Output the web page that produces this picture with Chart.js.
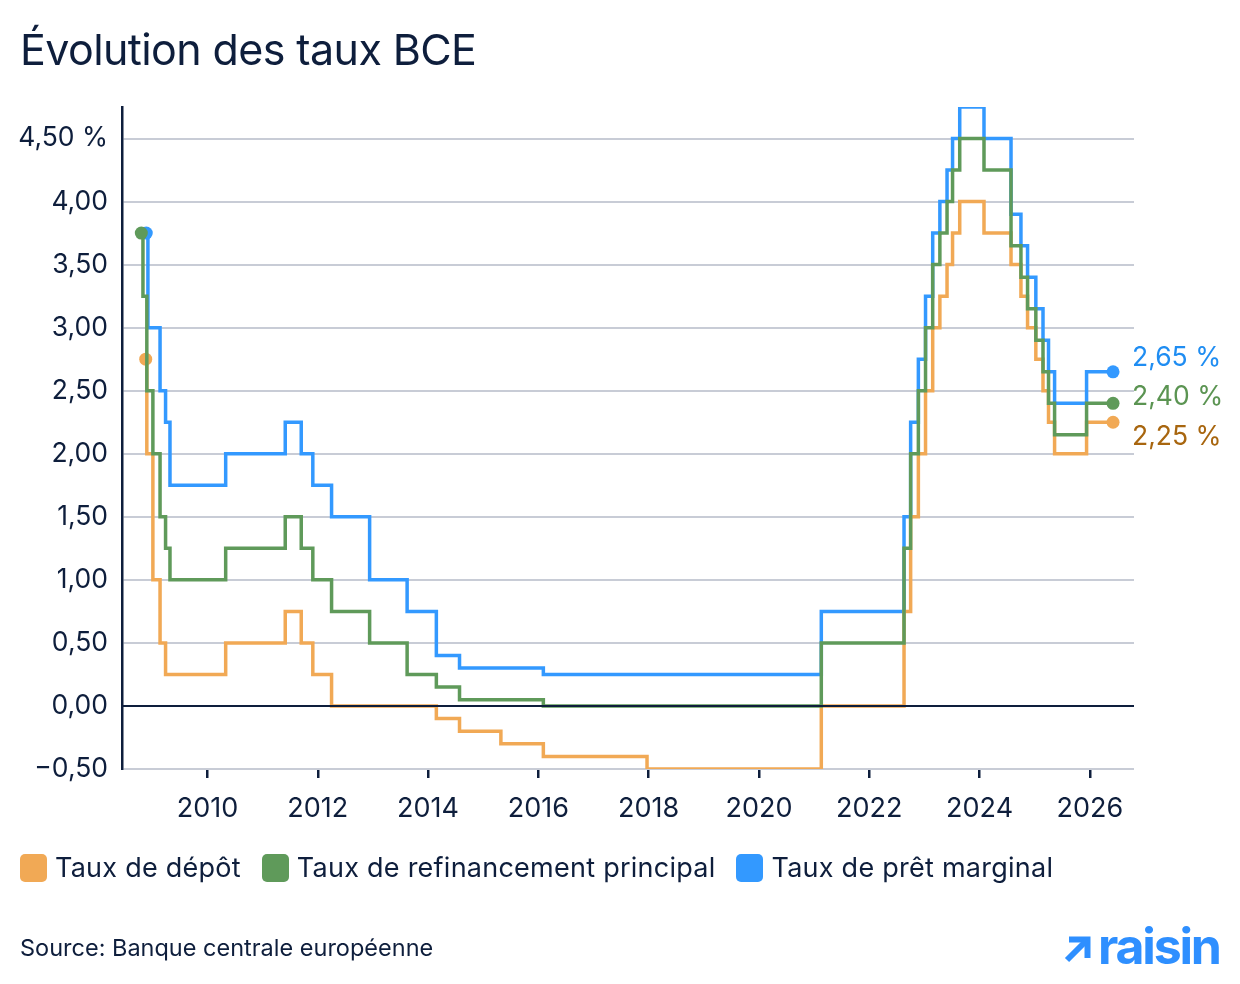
<!DOCTYPE html>
<html lang="fr">
<head>
<meta charset="utf-8">
<title>Évolution des taux BCE</title>
<script src="https://cdn.jsdelivr.net/npm/chart.js@4.4.1/dist/chart.umd.min.js"></script>
<style>
  html, body { margin: 0; padding: 0; background: #fff; }
  body { width: 1240px; height: 984px; position: relative; overflow: hidden;
         font-family: Inter, "Noto Sans", sans-serif; color: #0e1e3c; }
  #chart { position: absolute; left: 0; top: 0; }
  h1 { position: absolute; left: 20px; top: 24px; margin: 0; font-size: 43px; line-height: 50px;
       font-weight: 400; letter-spacing: -0.6px; }
  .legend { position: absolute; left: 20px; top: 853px; display: flex; font-size: 27px; line-height: 30px; letter-spacing: 0.25px; }
  .legend .item { display: flex; align-items: center; margin-right: 21px; }
  .legend .box { width: 27px; height: 28px; border-radius: 5px; margin-right: 8px; }
  .source { position: absolute; left: 20px; top: 935px; font-size: 23.5px; line-height: 26px; }
  .logo { position: absolute; left: 1064px; top: 918px; display: flex; align-items: center; color: #2e8fff; }
  .logo svg { margin-right: 6px; margin-top: 6px; }
  .logo span { font-size: 50px; font-weight: 700; letter-spacing: -2.2px; line-height: 56px; }
</style>
</head>
<body>
<canvas id="chart" width="1240" height="984"></canvas>
<h1>Évolution des taux BCE</h1>
<div class="legend" id="legend"></div>
<div class="source">Source: Banque centrale européenne</div>
<div class="logo">
  <svg width="28" height="28" viewBox="0 0 28 28">
    <polyline points="5,4.5 23.5,4.5 23.5,23" fill="none" stroke="#2e8fff" stroke-width="6"/>
    <line x1="23" y1="5" x2="3" y2="25" stroke="#2e8fff" stroke-width="6"/>
  </svg>
  <span>raisin</span>
</div>
<script>
// taux de dépôt
const depotDates = [2008.88, 2008.90, 2009.01, 2009.14, 2009.24, 2010.33, 2011.41, 2011.70, 2011.91, 2012.25,
  2014.15, 2014.57, 2015.32, 2016.09, 2017.97, 2021.13, 2022.63, 2022.75, 2022.89, 2023.02, 2023.15,
  2023.28, 2023.41, 2023.51, 2023.64, 2024.08, 2024.57, 2024.75, 2024.87, 2025.02, 2025.15, 2025.25,
  2025.36, 2025.94, 2026.42];
const depotRates = [2.75, 2.00, 1.00, 0.50, 0.25, 0.50, 0.75, 0.50, 0.25, 0.00,
  -0.10, -0.20, -0.30, -0.40, -0.50, 0.00, 0.75, 1.50, 2.00, 2.50, 3.00,
  3.25, 3.50, 3.75, 4.00, 3.75, 3.50, 3.25, 3.00, 2.75, 2.50, 2.25,
  2.00, 2.25, 2.25];

// taux de refinancement principal
const refiDates = [2008.80, 2008.83, 2008.90, 2009.01, 2009.14, 2009.24, 2009.32, 2010.33, 2011.41, 2011.70,
  2011.91, 2012.25, 2012.94, 2013.62, 2014.15, 2014.57, 2016.09, 2021.13, 2022.63, 2022.75, 2022.89,
  2023.02, 2023.15, 2023.28, 2023.41, 2023.51, 2023.64, 2024.08, 2024.57, 2024.75, 2024.87, 2025.02,
  2025.15, 2025.25, 2025.36, 2025.94, 2026.42];
const refiRates = [3.75, 3.25, 2.50, 2.00, 1.50, 1.25, 1.00, 1.25, 1.50, 1.25,
  1.00, 0.75, 0.50, 0.25, 0.15, 0.05, 0.00, 0.50, 1.25, 2.00, 2.50,
  3.00, 3.50, 3.75, 4.00, 4.25, 4.50, 4.25, 3.65, 3.40, 3.15, 2.90,
  2.65, 2.40, 2.15, 2.40, 2.40];

// taux de prêt marginal
const pretDates = [2008.89, 2008.92, 2009.14, 2009.24, 2009.32, 2010.33, 2011.41, 2011.70, 2011.91, 2012.25,
  2012.94, 2013.62, 2014.15, 2014.57, 2016.09, 2021.13, 2022.63, 2022.75, 2022.89, 2023.02, 2023.15,
  2023.28, 2023.41, 2023.51, 2023.64, 2024.08, 2024.57, 2024.75, 2024.87, 2025.02, 2025.15, 2025.25,
  2025.36, 2025.94, 2026.42];
const pretRates = [3.75, 3.00, 2.50, 2.25, 1.75, 2.00, 2.25, 2.00, 1.75, 1.50,
  1.00, 0.75, 0.40, 0.30, 0.25, 0.75, 1.50, 2.25, 2.75, 3.25, 3.75,
  4.00, 4.25, 4.50, 4.75, 4.50, 3.90, 3.65, 3.40, 3.15, 2.90, 2.65,
  2.40, 2.65, 2.65];

const seriesNames = ['Taux de dépôt', 'Taux de refinancement principal', 'Taux de prêt marginal'];
const xTicks = [2010, 2012, 2014, 2016, 2018, 2020, 2022, 2024, 2026];
const yTicks = [-0.5, 0, 0.5, 1, 1.5, 2, 2.5, 3, 3.5, 4, 4.5];

const navy = '#0e1e3c';
const colors = ['#f1a955', '#5f9a5a', '#3399ff'];
const labelColors = ['#a8660f', '#5b9452', '#1f8df2'];
const labelShift = [15, -6, -14];
const fontFamily = 'Inter, "Noto Sans", sans-serif';

function frNum(v) {
  return v.toFixed(2).replace('.', ',').replace('-', '\u2212');
}

function makeSet(i, dates, rates, order) {
  return {
    label: seriesNames[i],
    data: dates.map((d, k) => ({ x: d, y: rates[k] })),
    borderColor: colors[i],
    backgroundColor: colors[i],
    borderWidth: 3.5,
    stepped: 'before',
    order: order,
    pointRadius: c => (c.dataIndex === 0 || c.dataIndex === c.dataset.data.length - 1) ? 6.5 : 0,
    pointHoverRadius: 0,
    pointBorderWidth: 0,
    pointBackgroundColor: colors[i],
    labelIndex: i
  };
}

// ligne du zéro + étiquettes de fin
const overlay = {
  id: 'overlay',
  afterDatasetsDraw(chart) {
    const { ctx, chartArea, scales } = chart;
    const y0 = scales.y.getPixelForValue(0);
    ctx.save();
    ctx.strokeStyle = navy;
    ctx.lineWidth = 2;
    ctx.beginPath();
    ctx.moveTo(chartArea.left, y0);
    ctx.lineTo(chartArea.right, y0);
    ctx.stroke();

    ctx.font = '26.5px ' + fontFamily;
    ctx.textAlign = 'left';
    ctx.textBaseline = 'middle';
    chart.data.datasets.forEach((ds, i) => {
      const meta = chart.getDatasetMeta(i);
      const pt = meta.data[meta.data.length - 1];
      const idx = ds.labelIndex;
      const last = ds.data[ds.data.length - 1].y;
      ctx.fillStyle = labelColors[idx];
      ctx.fillText(frNum(last) + ' %', pt.x + 19, pt.y + labelShift[idx]);
    });
    ctx.restore();
  }
};

const chart = new Chart(document.getElementById('chart'), {
  type: 'line',
  data: {
    datasets: [
      makeSet(1, refiDates, refiRates, 0),
      makeSet(0, depotDates, depotRates, 1),
      makeSet(2, pretDates, pretRates, 2)
    ]
  },
  options: {
    responsive: false,
    devicePixelRatio: 1,
    animation: false,
    events: [],
    layout: { padding: { top: 107, right: 106, bottom: 155, left: 0 } },
    plugins: { legend: { display: false }, tooltip: { enabled: false } },
    scales: {
      x: {
        type: 'linear',
        min: 2008.45,
        max: 2026.8,
        afterBuildTicks: s => { s.ticks = xTicks.map(v => ({ value: v })); },
        afterFit: s => { s.height = 60; },
        grid: { display: true, drawOnChartArea: false, drawTicks: true, tickLength: 9, color: navy, lineWidth: 2.5 },
        border: { display: false },
        ticks: {
          padding: 15,
          color: navy,
          font: { family: fontFamily, size: 27 },
          callback: v => String(v)
        }
      },
      y: {
        min: -0.5,
        max: 4.75,
        afterBuildTicks: s => { s.ticks = yTicks.map(v => ({ value: v })); },
        afterFit: s => { s.width = 122; },
        grid: { color: '#c8ccd6', lineWidth: 2, drawTicks: false },
        border: { display: true, color: navy, width: 2.5 },
        ticks: {
          padding: 14,
          color: navy,
          font: { family: fontFamily, size: 26.5 },
          callback: v => v === 4.5 ? frNum(v) + ' %' : frNum(v)
        }
      }
    }
  },
  plugins: [overlay]
});

// légende
const legend = document.getElementById('legend');
seriesNames.forEach((name, i) => {
  const item = document.createElement('div');
  item.className = 'item';
  const box = document.createElement('div');
  box.className = 'box';
  box.style.background = colors[i];
  const txt = document.createElement('span');
  txt.textContent = name;
  item.appendChild(box);
  item.appendChild(txt);
  legend.appendChild(item);
});
</script>
</body>
</html>
